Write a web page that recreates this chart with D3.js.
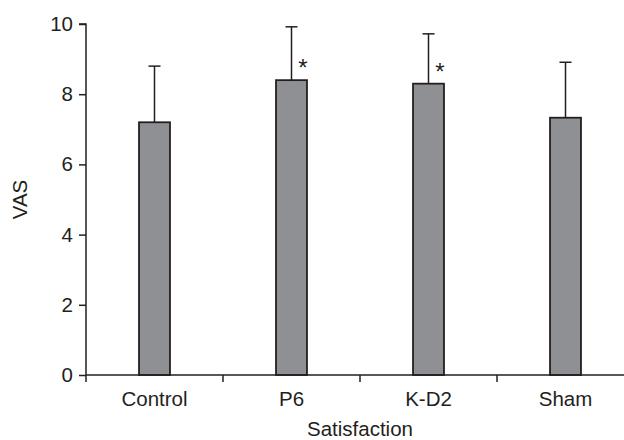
<!DOCTYPE html>
<html>
<head>
<meta charset="utf-8">
<script src="https://cdn.jsdelivr.net/npm/d3@7"></script>
<style>
  html, body { margin: 0; padding: 0; background: #fff; }
  svg { display: block; }
  text { font-family: "Liberation Sans", Arial, Helvetica, sans-serif; fill: #231f20; }
</style>
</head>
<body>
<svg id="chart" width="624" height="440"></svg>
<script>
const categories = ["Control", "P6", "K-D2", "Sham"];
const means = [7.2, 8.4, 8.3, 7.33];
const sds = [1.6, 1.52, 1.42, 1.58];
const significant = [false, true, true, false];
const yTicks = [0, 2, 4, 6, 8, 10];
const xTitle = "Satisfaction";
const yTitle = "VAS";

(function () {
const svg = d3.select("#chart");
const mL = 86, mR = 634, mT = 24, mB = 375;
const ink = "#231f20";
const fs = 20.5;

const x = d3.scaleBand().domain(categories).range([mL, mR])
  .paddingInner(0.774).paddingOuter(0.387);
const xStep = d3.scaleBand().domain(categories).range([mL, mR]).padding(0);
const y = d3.scaleLinear().domain([0, 10]).range([mB, mT]);

// bars
svg.append("g").selectAll("rect").data(categories).join("rect")
  .attr("x", d => x(d))
  .attr("y", (d, i) => y(means[i]))
  .attr("width", x.bandwidth())
  .attr("height", (d, i) => y(0) - y(means[i]))
  .attr("fill", "#8f9094")
  .attr("stroke", ink)
  .attr("stroke-width", 1.8);

// error bars
const eg = svg.append("g").attr("stroke", ink).attr("stroke-width", 1.5);
categories.forEach((c, i) => {
  const cx = x(c) + x.bandwidth() / 2;
  eg.append("line").attr("x1", cx).attr("x2", cx)
    .attr("y1", y(means[i])).attr("y2", y(means[i] + sds[i]));
  eg.append("line").attr("x1", cx - 6).attr("x2", cx + 6)
    .attr("y1", y(means[i] + sds[i])).attr("y2", y(means[i] + sds[i]));
  if (significant[i]) {
    svg.append("text")
      .attr("x", x(c) + x.bandwidth() - 4)
      .attr("y", y(means[i]) - 4)
      .attr("text-anchor", "middle")
      .attr("font-size", 24)
      .text("*");
  }
});

// y axis
const yAxis = svg.append("g").attr("transform", `translate(${mL},0)`)
  .call(d3.axisLeft(y).tickValues(yTicks).tickSize(7).tickPadding(6).tickFormat(d3.format("d")));
yAxis.select(".domain").attr("stroke", ink).attr("stroke-width", 1.5).attr("d", `M-7,${mT}H0V${mB}`);
yAxis.selectAll(".tick line").attr("stroke", ink).attr("stroke-width", 1.5);
yAxis.selectAll(".tick text").attr("font-size", fs).style("fill", ink)
  .attr("font-family", "Liberation Sans, Arial, sans-serif");

// x axis: ticks at category boundaries
const bounds = categories.map(c => xStep(c)).concat([mR]);
const xg = svg.append("g");
xg.append("line").attr("x1", mL).attr("x2", mR).attr("y1", mB).attr("y2", mB)
  .attr("stroke", ink).attr("stroke-width", 1.5);
xg.selectAll("line.t").data(bounds).join("line").attr("class", "t")
  .attr("x1", d => d).attr("x2", d => d).attr("y1", mB).attr("y2", mB + 7)
  .attr("stroke", ink).attr("stroke-width", 1.5);
xg.selectAll("text").data(categories).join("text")
  .attr("x", d => xStep(d) + xStep.bandwidth() / 2)
  .attr("y", mB + 31)
  .attr("text-anchor", "middle")
  .attr("font-size", fs)
  .text(d => d);

// titles
svg.append("text").attr("x", (mL + mR) / 2).attr("y", 436)
  .attr("text-anchor", "middle").attr("font-size", fs).text(xTitle);
svg.append("text").attr("transform", `translate(27,${(mT + mB) / 2}) rotate(-90)`)
  .attr("text-anchor", "middle").attr("font-size", fs).text(yTitle);
})();
</script>
</body>
</html>
